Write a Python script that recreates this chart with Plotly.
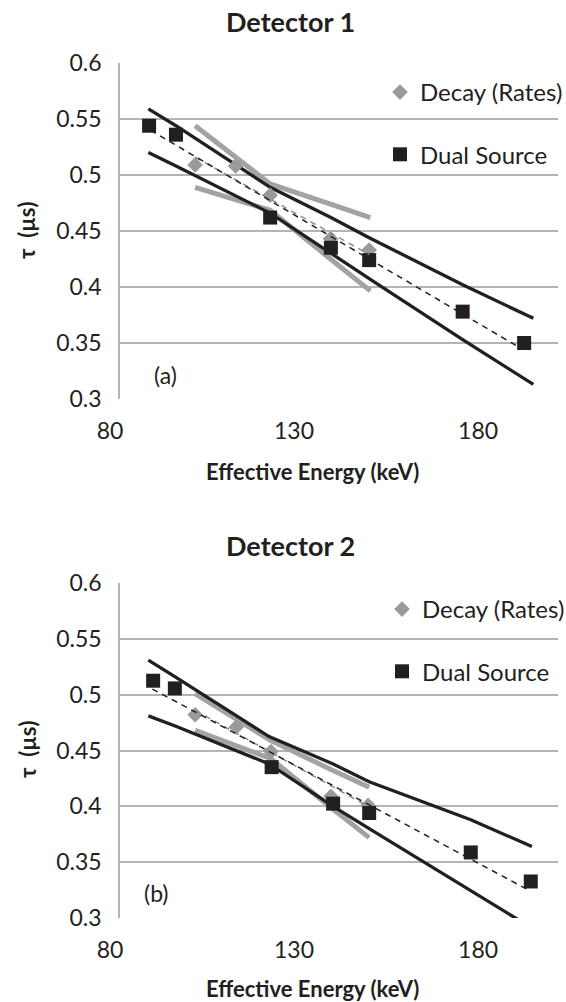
import plotly.graph_objects as go

# ---------------- data ----------------
# Detector 1
ds_energy_1 = [87.9, 95.2, 120.8, 137.3, 147.7, 173.1, 189.8]
ds_tau_1 = [0.544, 0.536, 0.462, 0.435, 0.424, 0.378, 0.350]
decay_energy_1 = [100.4, 111.4, 120.8, 137.2, 147.7]
decay_tau_1 = [0.509, 0.508, 0.482, 0.443, 0.433]

ds_band_energy_1 = [87.7, 95.2, 120.8, 137.3, 147.7, 173.1, 192.3]
ds_upper_1 = [0.559, 0.544, 0.489, 0.462, 0.444, 0.402, 0.372]
ds_lower_1 = [0.520, 0.508, 0.466, 0.430, 0.4075, 0.353, 0.313]
decay_band_energy_1 = [100.4, 111.4, 120.8, 137.2, 148.0]
decay_upper_1 = [0.544, 0.516, 0.492, 0.474, 0.462]
decay_lower_1 = [0.489, 0.478, 0.4685, 0.425, 0.3965]

ds_fit_energy_1 = [88.3, 188.0]
ds_fit_tau_1 = [0.540, 0.347]
decay_fit_energy_1 = [100.4, 147.7]
decay_fit_tau_1 = [0.516, 0.429]

# Detector 2
ds_energy_2 = [89.0, 94.9, 121.2, 137.9, 147.7, 175.3, 191.6]
ds_tau_2 = [0.5125, 0.5056, 0.4351, 0.4024, 0.394, 0.3587, 0.3327]
decay_energy_2 = [100.4, 111.6, 121.0, 137.3, 147.4]
decay_tau_2 = [0.482, 0.471, 0.449, 0.409, 0.401]

ds_band_energy_2 = [87.7, 95.0, 120.5, 137.9, 147.7, 175.3, 191.9]
ds_upper_2 = [0.531, 0.516, 0.4625, 0.438, 0.422, 0.388, 0.364]
ds_lower_2 = [0.481, 0.472, 0.438, 0.400, 0.380, 0.325, 0.291]
decay_band_energy_2 = [100.4, 111.6, 121.0, 137.3, 147.7]
decay_upper_2 = [0.501, 0.478, 0.459, 0.433, 0.417]
decay_lower_2 = [0.468, 0.454, 0.4426, 0.399, 0.372]

ds_fit_energy_2 = [88.8, 191.0]
ds_fit_tau_2 = [0.505, 0.325]
decay_fit_energy_2 = [100.4, 147.4]
decay_fit_tau_2 = [0.486, 0.400]

x_ticks = [80, 130, 180]
y_ticks = [0.3, 0.35, 0.4, 0.45, 0.5, 0.55, 0.6]
y_tick_text = ["0.3", "0.35", "0.4", "0.45", "0.5", "0.55", "0.6"]

# ---------------- styling ----------------
W, H = 566, 1002
FONT = "Lato"
DARK = "#231f20"
GRAY_LINE = "#a3a3a3"
GRAY_MARK = "#9a9a9a"
GRID = "#b4b4b4"

fig = go.Figure()


def add_panel(xa, ya, legend_name, data):
    (band_e, up, lo, dband_e, dup, dlo, fit_e, fit_t, dfit_e, dfit_t,
     de, dt, se, st) = data
    kw = dict(xaxis=xa, yaxis=ya, showlegend=False, hoverinfo="skip")
    for ys in (dup, dlo):
        fig.add_trace(go.Scatter(x=dband_e, y=ys, mode="lines",
                                 line=dict(color=GRAY_LINE, width=5), **kw))
    for ys in (up, lo):
        fig.add_trace(go.Scatter(x=band_e, y=ys, mode="lines",
                                 line=dict(color=DARK, width=3.3), **kw))
    fig.add_trace(go.Scatter(
        x=de, y=dt, mode="markers", name="Decay (Rates)",
        marker=dict(symbol="diamond", size=12, color=GRAY_MARK),
        xaxis=xa, yaxis=ya, legend=legend_name, legendgroup="a" + legend_name))
    fig.add_trace(go.Scatter(
        x=se, y=st, mode="markers", name="Dual Source",
        marker=dict(symbol="square", size=14, color=DARK),
        xaxis=xa, yaxis=ya, legend=legend_name, legendgroup="b" + legend_name))
    fig.add_trace(go.Scatter(x=dfit_e, y=dfit_t, mode="lines",
                             line=dict(color="#8c8c8c", width=1.5, dash="6px,5px"), **kw))
    fig.add_trace(go.Scatter(x=fit_e, y=fit_t, mode="lines",
                             line=dict(color=DARK, width=1.5, dash="6px,5px"), **kw))


add_panel("x", "y", "legend",
          (ds_band_energy_1, ds_upper_1, ds_lower_1,
           decay_band_energy_1, decay_upper_1, decay_lower_1,
           ds_fit_energy_1, ds_fit_tau_1, decay_fit_energy_1, decay_fit_tau_1,
           decay_energy_1, decay_tau_1, ds_energy_1, ds_tau_1))
add_panel("x2", "y2", "legend2",
          (ds_band_energy_2, ds_upper_2, ds_lower_2,
           decay_band_energy_2, decay_upper_2, decay_lower_2,
           ds_fit_energy_2, ds_fit_tau_2, decay_fit_energy_2, decay_fit_tau_2,
           decay_energy_2, decay_tau_2, ds_energy_2, ds_tau_2))


def px_x(p):
    return p / W


def px_y(p):
    return 1 - p / H


x_dom = [px_x(120), px_x(558)]
top_dom = [px_y(399), px_y(63)]
bot_dom = [px_y(918), px_y(583)]

xaxis_style = dict(range=[80, 199], tickvals=x_ticks, showgrid=False,
                   zeroline=False, showline=False, ticks="", automargin=False,
                   ticklabelshift=-10, ticklabelstandoff=16,
                   tickfont=dict(family=FONT, size=23, color=DARK))
yaxis_style = dict(range=[0.3, 0.6], tickvals=y_ticks, ticktext=y_tick_text,
                   showgrid=True, gridcolor=GRID, gridwidth=1.6, automargin=False,
                   zeroline=False, showline=True, linecolor=GRID, linewidth=1.6,
                   ticks="", ticklabelstandoff=12,
                   tickfont=dict(family=FONT, size=23, color=DARK))

legend_style = dict(font=dict(family=FONT, size=24, color=DARK),
                    bgcolor="rgba(0,0,0,0)", tracegroupgap=28,
                    itemwidth=30, xanchor="left", yanchor="top")

fig.update_layout(
    width=W, height=H,
    margin=dict(l=0, r=0, t=0, b=0, autoexpand=False),
    paper_bgcolor="white", plot_bgcolor="white",
    xaxis=dict(domain=x_dom, anchor="y", **xaxis_style),
    yaxis=dict(domain=top_dom, anchor="x", **yaxis_style),
    xaxis2=dict(domain=x_dom, anchor="y2", **xaxis_style),
    yaxis2=dict(domain=bot_dom, anchor="x2", **yaxis_style),
    legend=dict(x=px_x(380), y=px_y(70), **legend_style),
    legend2=dict(x=px_x(382), y=px_y(587), **legend_style),
)

ann = []
for title, ty in (("Detector 1", 21), ("Detector 2", 545)):
    ann.append(dict(text="<b>%s</b>" % title, x=px_x(290), y=px_y(ty),
                    font=dict(family=FONT, size=27, color=DARK)))
for ty in (471, 988):
    ann.append(dict(text="<b>Effective Energy (keV)</b>", x=px_x(312), y=px_y(ty),
                    font=dict(family=FONT, size=22, color=DARK)))
for ty in (231, 750):
    ann.append(dict(text="<b>τ  (µs)</b>", x=px_x(27), y=px_y(ty), textangle=-90,
                    font=dict(family=FONT, size=22, color=DARK)))
for label, lx, ly in (("(a)", 165, 375), ("(b)", 157, 893)):
    ann.append(dict(text=label, x=px_x(lx), y=px_y(ly),
                    font=dict(family=FONT, size=23, color=DARK)))
for a in ann:
    a.update(xref="paper", yref="paper", showarrow=False,
             xanchor="center", yanchor="middle")
fig.update_layout(annotations=ann)

fig.write_html("out.html")
